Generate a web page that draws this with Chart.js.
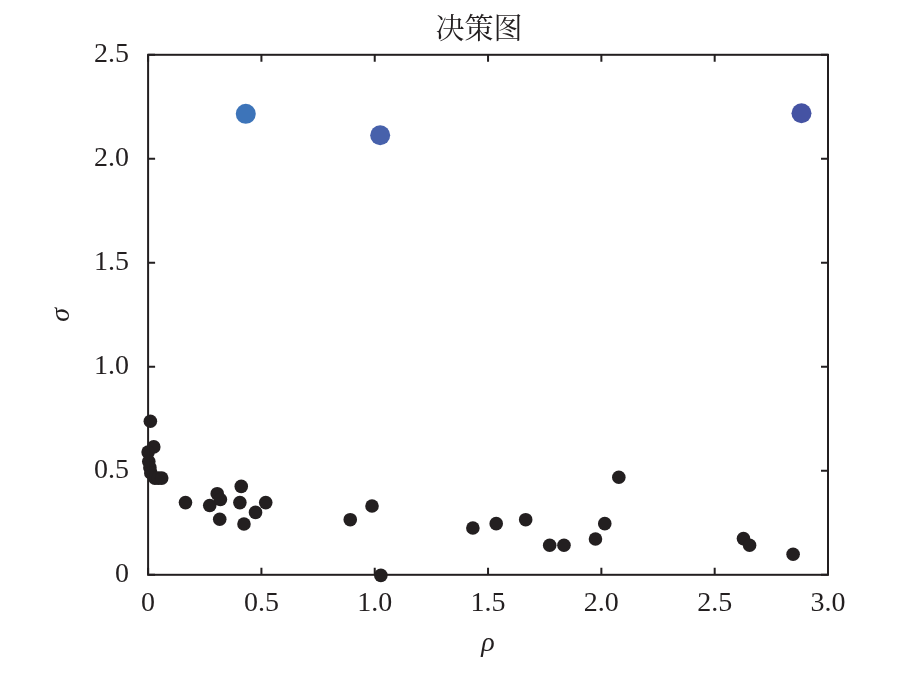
<!DOCTYPE html>
<html>
<head>
<meta charset="utf-8">
<script src="https://cdn.jsdelivr.net/npm/chart.js@4"></script>
<style>
  html, body { margin: 0; padding: 0; background: #fff; }
  #wrap { width: 914px; height: 677px; }
</style>
</head>
<body>
<div id="wrap"><canvas id="decisionChart"></canvas></div>
<script>
// decision graph data: local density (rho) vs distance (sigma)
const rho = [0.01, 0.025, 0.0, 0.003, 0.008, 0.012, 0.03, 0.045, 0.06,
  0.165, 0.272, 0.305, 0.319, 0.316, 0.411, 0.405, 0.423, 0.474, 0.519,
  0.892, 0.988, 1.027, 1.433, 1.536, 1.666, 1.772, 1.835, 1.974, 2.015, 2.077,
  2.627, 2.654, 2.846];
const sigma = [0.738, 0.615, 0.59, 0.545, 0.515, 0.49, 0.465, 0.465, 0.465,
  0.347, 0.333, 0.39, 0.362, 0.267, 0.425, 0.347, 0.244, 0.30, 0.347,
  0.265, 0.331, -0.003, 0.225, 0.246, 0.265, 0.142, 0.142, 0.172, 0.246, 0.469,
  0.174, 0.142, 0.099];

// cluster centres
const centerRho = [0.431, 1.024, 2.883];
const centerSigma = [2.216, 2.113, 2.219];
const centerColors = ['#3d74b9', '#4761ab', '#4553a3'];

const xTicks = [0, 0.5, 1.0, 1.5, 2.0, 2.5, 3.0];
const yTicks = [0, 0.5, 1.0, 1.5, 2.0, 2.5];

const serif = '"Liberation Serif", "Times New Roman", serif';
const ink = '#231f20';

// frame with inward ticks on all four sides
const boxPlugin = {
  id: 'box',
  afterLayout(chart) {
    // title sits a little left of the plot centre in the original
    const t = chart.titleBlock;
    const a = chart.chartArea;
    if (t) {
      const shift = (a.left + a.right) / 2 - 9 - (t.left + t.right) / 2;
      t.left += shift;
      t.right += shift;
    }
  },
  afterDraw(chart) {
    const { ctx, chartArea: a, scales } = chart;
    const len = 7;
    ctx.save();
    ctx.strokeStyle = ink;
    ctx.lineWidth = 2;
    ctx.strokeRect(a.left, a.top, a.right - a.left, a.bottom - a.top);
    ctx.beginPath();
    scales.x.ticks.forEach(t => {
      const px = scales.x.getPixelForValue(t.value);
      ctx.moveTo(px, a.bottom); ctx.lineTo(px, a.bottom - len);
      ctx.moveTo(px, a.top); ctx.lineTo(px, a.top + len);
    });
    scales.y.ticks.forEach(t => {
      const py = scales.y.getPixelForValue(t.value);
      ctx.moveTo(a.left, py); ctx.lineTo(a.left + len, py);
      ctx.moveTo(a.right, py); ctx.lineTo(a.right - len, py);
    });
    ctx.stroke();
    ctx.restore();
  }
};

function makeChart() {
  const ctx = document.getElementById('decisionChart').getContext('2d');

  new Chart(ctx, {
    type: 'scatter',
    data: {
      datasets: [{
        data: rho.map((r, i) => ({ x: r, y: sigma[i] })),
        backgroundColor: ink,
        borderWidth: 0,
        pointRadius: 6.8,
        clip: false,
      }, {
        data: centerRho.map((r, i) => ({ x: r, y: centerSigma[i] })),
        backgroundColor: centerColors,
        borderWidth: 0,
        pointRadius: 10,
        clip: false,
      }],
    },
    options: {
      responsive: true,
      maintainAspectRatio: false,
      animation: false,
      layout: { padding: { left: 45, right: 86, top: 8, bottom: 17 } },
      plugins: {
        legend: { display: false },
        tooltip: { enabled: false },
        title: {
          display: true,
          text: '决策图',
          color: ink,
          font: { family: '"Noto Serif CJK SC", "Noto Sans CJK SC", serif', size: 29, weight: 'normal' },
          padding: { top: 3, bottom: 9 },
        },
      },
      scales: {
        x: {
          type: 'linear',
          min: 0,
          max: 3,
          afterBuildTicks: s => { s.ticks = xTicks.map(v => ({ value: v })); },
          ticks: {
            color: ink,
            padding: 4,
            font: { family: serif, size: 28 },
            callback: v => (v === 0 ? '0' : v.toFixed(1)),
          },
          grid: { display: false },
          border: { display: false },
          title: {
            display: true,
            text: 'ρ',
            color: ink,
            font: { family: serif, size: 28, style: 'italic' },
            padding: { top: 2, bottom: 0 },
          },
        },
        y: {
          type: 'linear',
          min: 0,
          max: 2.5,
          afterBuildTicks: s => { s.ticks = yTicks.map(v => ({ value: v })); },
          ticks: {
            color: ink,
            padding: 11,
            font: { family: serif, size: 28 },
            callback: v => (v === 0 ? '0' : v.toFixed(1)),
          },
          grid: { display: false },
          border: { display: false },
          title: {
            display: true,
            text: 'σ',
            color: ink,
            font: { family: serif, size: 28, style: 'italic' },
            padding: { top: 0, bottom: 4.5 },
          },
        },
      },
    },
    plugins: [boxPlugin],
  });
}

makeChart();
</script>
</body>
</html>
